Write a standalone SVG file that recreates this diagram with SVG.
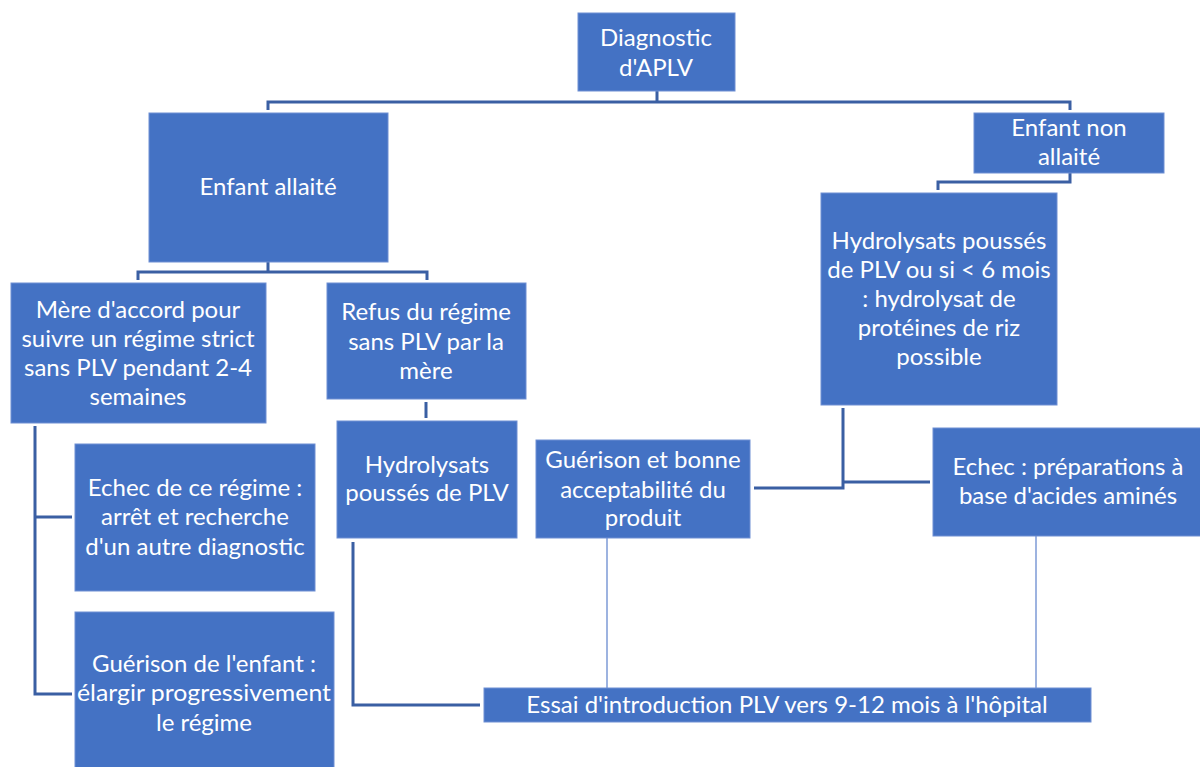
<svg xmlns="http://www.w3.org/2000/svg" width="1200" height="767" viewBox="0 0 1200 767">
<style>
.box{fill:#4472C4;stroke:#6E8FD3;stroke-width:1}
.t{font-family:Lato,"Open Sans","Liberation Sans",sans-serif;font-size:24px;fill:#fff;text-anchor:middle;dominant-baseline:central}
.c{fill:none;stroke:#3A5FA3;stroke-width:3}
.thin{fill:none;stroke:#7D9BD6;stroke-width:1.5}
</style>
<rect width="1200" height="767" fill="#fff"/>
<g id="connectors">
<path class="c" d="M657 91V102M268 110V102H1070V110"/>
<path class="c" d="M1070 173V182H938V190"/>
<path class="c" d="M268 262V272M138 280V272H427V280"/>
<path class="c" d="M426 402V418"/>
<path class="c" d="M35 426V694H72M35 517H72"/>
<path class="c" d="M353 542V705H480"/>
<path class="c" d="M843 408V488H754M843 482H930"/>
<path class="thin" d="M607 538V688M1036 536V688"/>
</g>
<g id="diagnostic"><rect class="box" x="578" y="13" width="157" height="78"/><text class="t" x="656" y="36">Diagnostic</text><text class="t" x="656" y="66">d'APLV</text></g>
<g id="enfant-allaite"><rect class="box" x="149" y="113" width="239" height="149"/><text class="t" x="268" y="185">Enfant allaité</text></g>
<g id="enfant-non-allaite"><rect class="box" x="974" y="113" width="190" height="60"/><text class="t" x="1069" y="126">Enfant non</text><text class="t" x="1069" y="155">allaité</text></g>
<g id="hydrolysats-non"><rect class="box" x="821" y="193" width="236" height="212"/><text class="t" x="939" y="239">Hydrolysats poussés</text><text class="t" x="939" y="268">de PLV ou si &lt; 6 mois</text><text class="t" x="939" y="297">: hydrolysat de</text><text class="t" x="939" y="326">protéines de riz</text><text class="t" x="939" y="355">possible</text></g>
<g id="mere"><rect class="box" x="11" y="283" width="255" height="140"/><text class="t" x="138" y="308">Mère d'accord pour</text><text class="t" x="138" y="337">suivre un régime strict</text><text class="t" x="138" y="366">sans PLV pendant 2-4</text><text class="t" x="138" y="395">semaines</text></g>
<g id="refus"><rect class="box" x="327" y="283" width="199" height="116"/><text class="t" x="426" y="310">Refus du régime</text><text class="t" x="426" y="340">sans PLV par la</text><text class="t" x="426" y="369">mère</text></g>
<g id="hydrolysats-plv"><rect class="box" x="337" y="421" width="180" height="117"/><text class="t" x="427" y="463">Hydrolysats</text><text class="t" x="427" y="491">poussés de PLV</text></g>
<g id="guerison-produit"><rect class="box" x="536" y="440" width="214" height="98"/><text class="t" x="643" y="458">Guérison et bonne</text><text class="t" x="643" y="488">acceptabilité du</text><text class="t" x="643" y="516">produit</text></g>
<g id="echec-acides"><rect class="box" x="933" y="428" width="270" height="108"/><text class="t" x="1068" y="465">Echec : préparations à</text><text class="t" x="1068" y="494">base d'acides aminés</text></g>
<g id="echec-regime"><rect class="box" x="75" y="444" width="240" height="147"/><text class="t" x="195" y="486">Echec de ce régime :</text><text class="t" x="195" y="515">arrêt et recherche</text><text class="t" x="195" y="545">d'un autre diagnostic</text></g>
<g id="guerison-enfant"><rect class="box" x="75" y="612" width="259" height="160"/><text class="t" x="204" y="662">Guérison de l'enfant :</text><text class="t" x="204" y="691" textLength="254" lengthAdjust="spacingAndGlyphs">élargir progressivement</text><text class="t" x="204" y="721">le régime</text></g>
<g id="essai"><rect class="box" x="484" y="688" width="607" height="34"/><text class="t" x="787" y="703">Essai d'introduction PLV vers 9-12 mois à l'hôpital</text></g>
</svg>
